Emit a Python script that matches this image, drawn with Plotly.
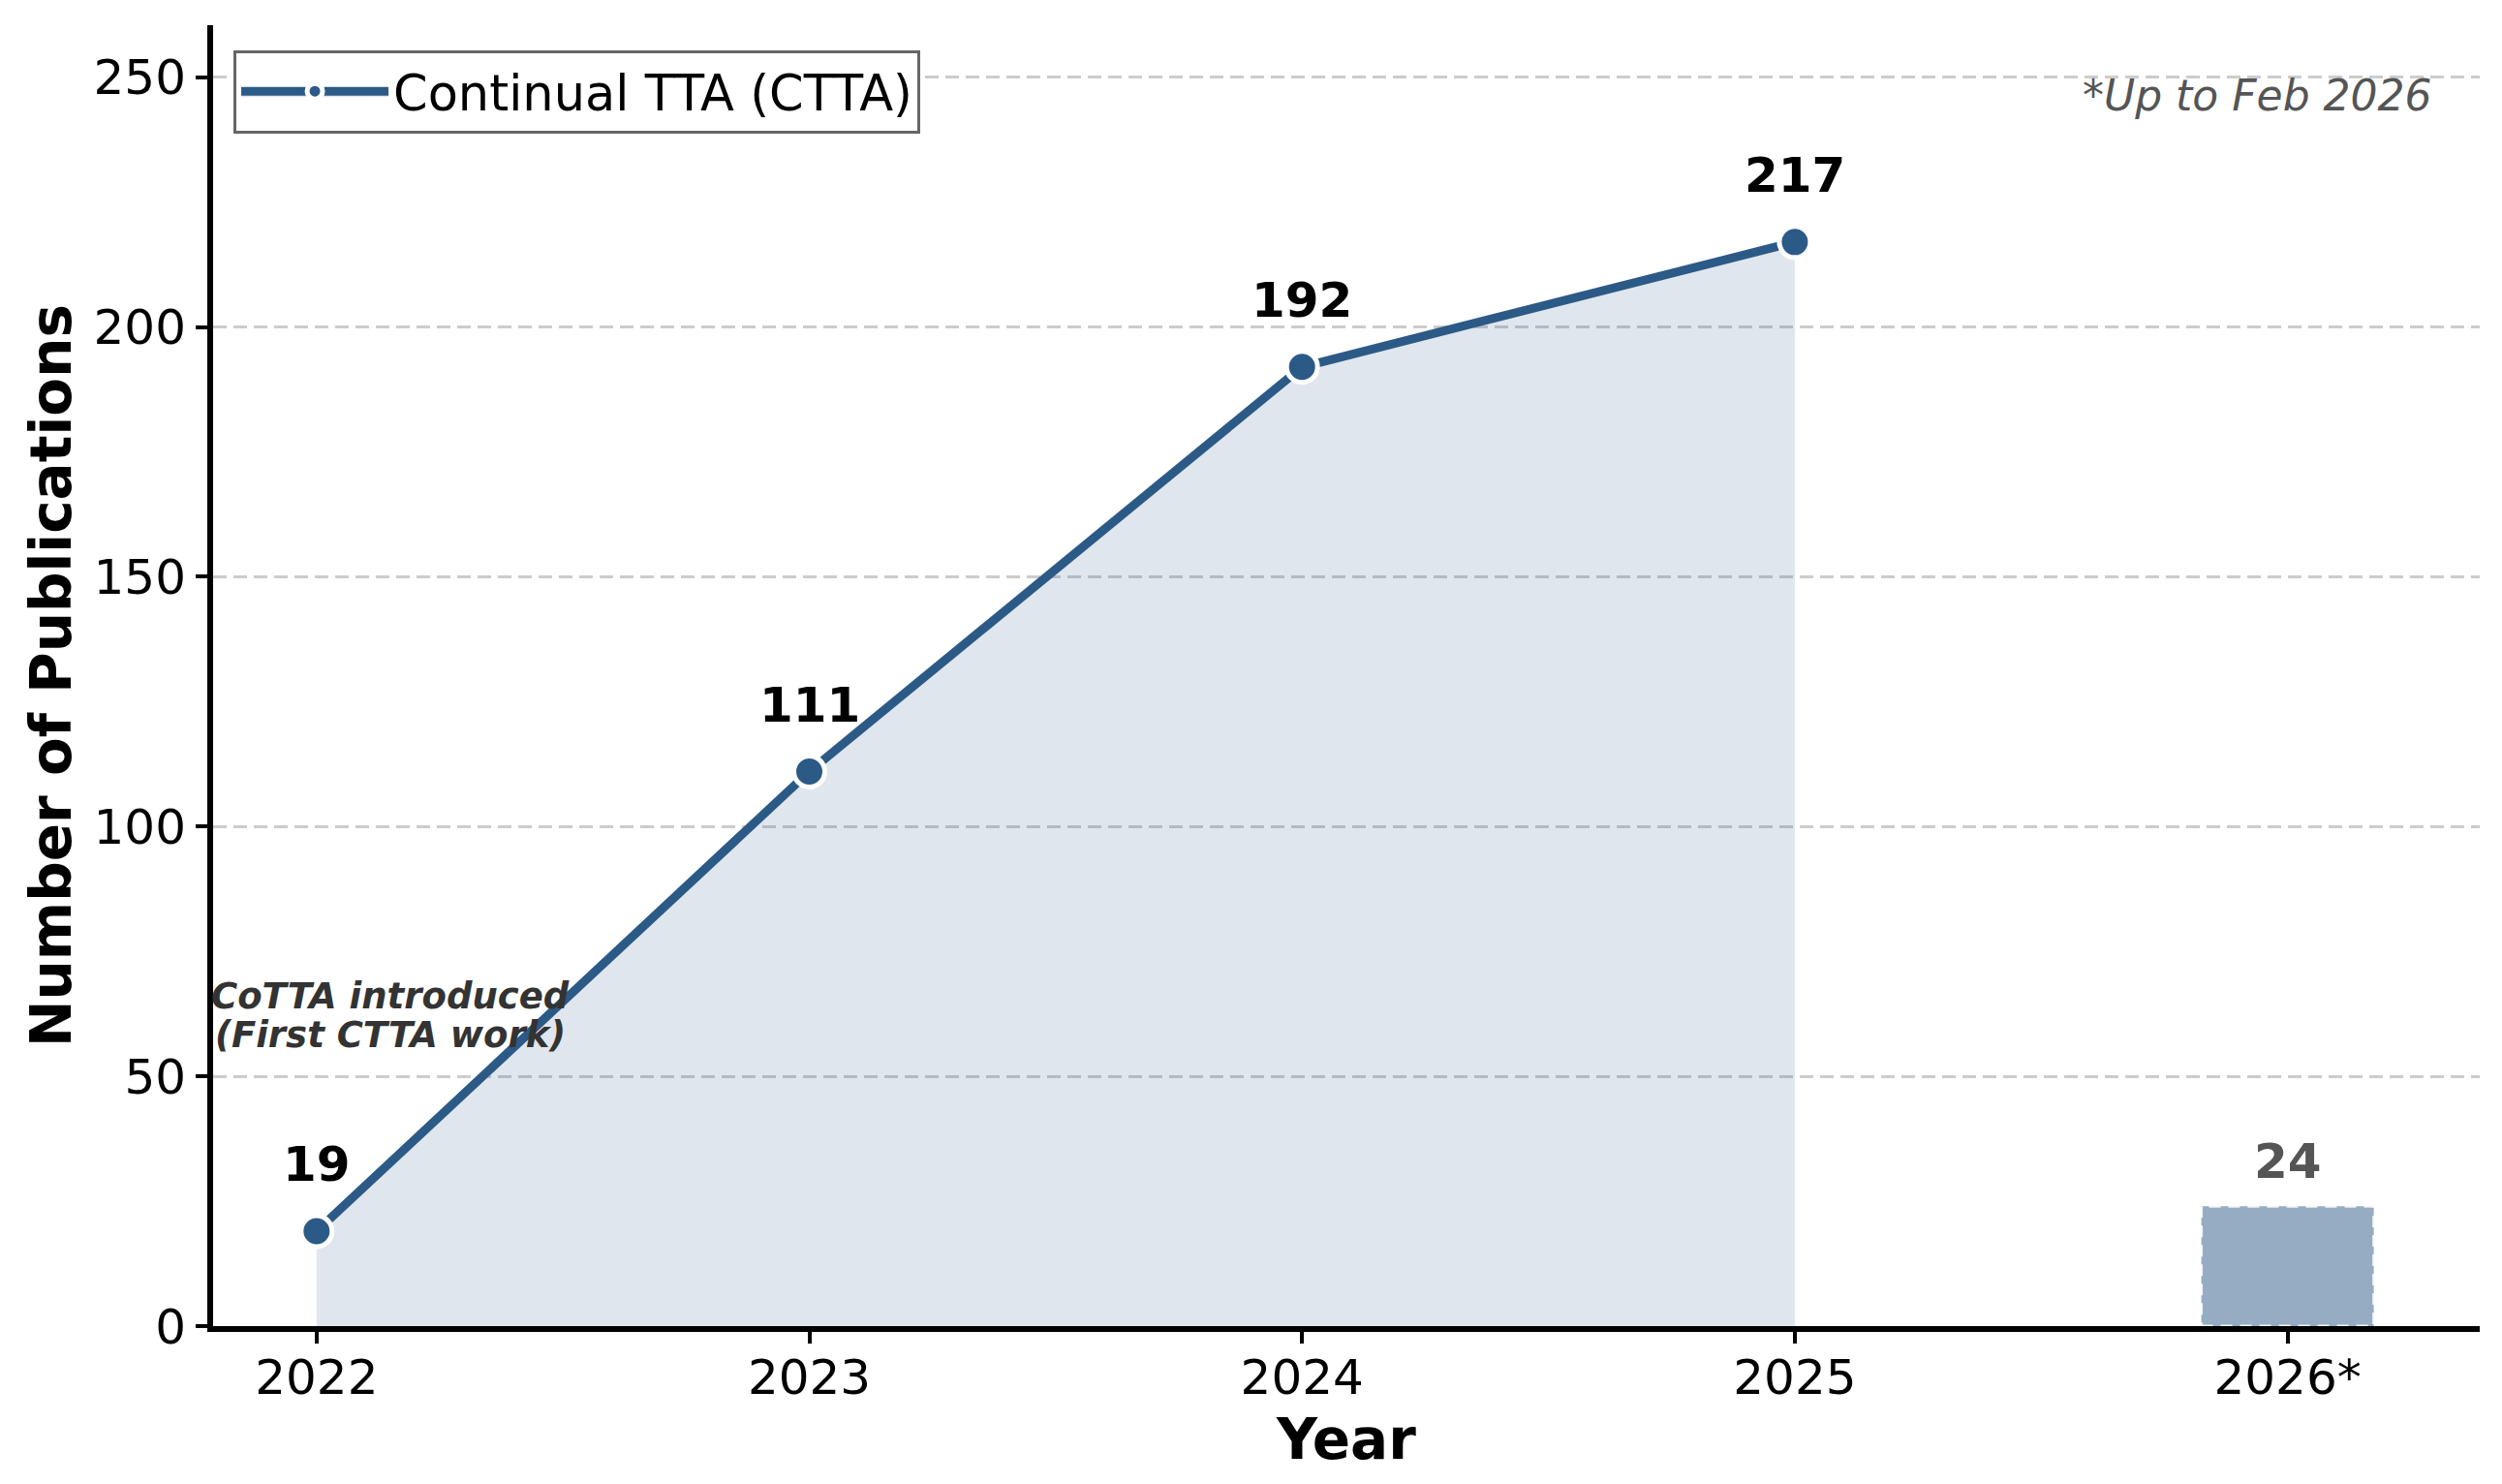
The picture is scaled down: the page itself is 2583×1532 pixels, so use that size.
import plotly.graph_objects as go

# ---- data ----
categories = ["2022", "2023", "2024", "2025", "2026*"]
line_years = ["2022", "2023", "2024", "2025"]
line_counts = [19, 111, 192, 217]
partial_year = "2026*"
partial_count = 24
yticks = [0, 50, 100, 150, 200, 250]
series_name = "Continual TTA (CTTA)"

LINE = "#2c5a87"
FONT = "DejaVu Sans"

pos = {c: i for i, c in enumerate(categories)}
lx = [pos[c] for c in line_years]
bx = pos[partial_year]

fig = go.Figure()

# filled line
fig.add_trace(go.Scatter(
    x=lx, y=line_counts, mode="lines+markers", name=series_name,
    line=dict(color=LINE, width=9),
    marker=dict(size=32, color=LINE, line=dict(color="white", width=5)),
    fill="tozeroy", fillcolor="rgba(44,90,135,0.15)",
    cliponaxis=False,
))

# partial-year bar
BAR_W = 0.35
fig.add_trace(go.Bar(
    x=[bx], y=[partial_count], width=BAR_W, showlegend=False,
    marker=dict(color="rgba(44,90,135,0.5)", line=dict(width=0)),
))
fig.add_shape(type="rect", xref="x", yref="y",
              x0=bx - BAR_W / 2, x1=bx + BAR_W / 2, y0=0, y1=partial_count,
              line=dict(color="rgba(255,255,255,0.85)", width=3, dash="12px,8px"),
              layer="above")

annotations = []
for x, v in zip(lx, line_counts):
    annotations.append(dict(x=x, y=v, xref="x", yref="y", text=str(v),
                            showarrow=False, yanchor="bottom", yshift=38,
                            font=dict(family=FONT, size=50, color="black", weight="bold")))
annotations.append(dict(x=bx, y=partial_count, xref="x", yref="y", text=str(partial_count),
                        showarrow=False, yanchor="bottom", yshift=15,
                        font=dict(family=FONT, size=50, color="#555555", weight="bold")))
annotations.append(dict(x=0.15, y=66, xref="x", yref="y", text="CoTTA introduced",
                        showarrow=False, yanchor="middle", xanchor="center",
                        font=dict(family=FONT, size=37, color="#333333", weight="bold", style="italic")))
annotations.append(dict(x=0.15, y=58.2, xref="x", yref="y", text="(First CTTA work)",
                        showarrow=False, yanchor="middle", xanchor="center",
                        font=dict(family=FONT, size=37, color="#333333", weight="bold", style="italic")))
annotations.append(dict(x=0.98, y=0.946, xref="paper", yref="paper", text="*Up to Feb 2026",
                        showarrow=False, yanchor="middle", xanchor="right",
                        font=dict(family=FONT, size=44, color="#555555", style="italic")))

fig.update_layout(
    width=2583, height=1532,
    margin=dict(l=220, r=23, t=26, b=163),
    paper_bgcolor="white", plot_bgcolor="white",
    font=dict(family=FONT, size=50, color="black"),
    annotations=annotations,
    legend=dict(x=0.009, y=0.981, xanchor="left", yanchor="top",
                bgcolor="white", bordercolor="#666666", borderwidth=3,
                font=dict(family=FONT, size=51, color="black"),
                itemwidth=152, itemsizing="trace"),
    xaxis=dict(
        range=[-0.21, 4.39],
        tickvals=list(range(len(categories))), ticktext=categories,
        showline=True, linecolor="black", linewidth=6,
        ticks="outside", ticklen=12, tickwidth=4, tickcolor="black",
        ticklabelstandoff=-8,
        showgrid=False, zeroline=False,
        tickfont=dict(family=FONT, size=50, color="black"),
        title=dict(text="Year", standoff=17,
                   font=dict(family=FONT, size=58, color="black", weight="bold")),
    ),
    yaxis=dict(
        range=[0, 260.4],
        tickvals=yticks,
        showline=True, linecolor="black", linewidth=6,
        ticks="outside", ticklen=12, tickwidth=4, tickcolor="black",
        showgrid=True, gridcolor="rgba(128,128,128,0.4)", gridwidth=3, griddash="14px,7px",
        zeroline=False,
        tickfont=dict(family=FONT, size=50, color="black"),
        title=dict(text="Number of Publications", standoff=6,
                   font=dict(family=FONT, size=58, color="black", weight="bold")),
    ),
)

fig.write_html("out.html")
